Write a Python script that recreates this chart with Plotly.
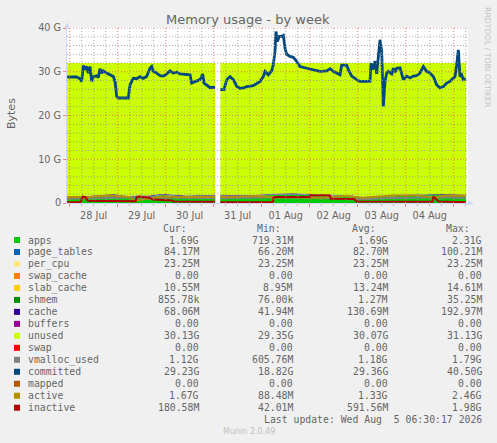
import plotly.graph_objects as go
import pandas as pd

# ---------------- data (values in G) ----------------
STACK_TIMES = [
    "2026-07-27 22:45", "2026-07-28 04:00", "2026-07-28 10:00", "2026-07-28 16:00", "2026-07-28 22:00",
    "2026-07-29 04:00", "2026-07-29 10:00", "2026-07-29 16:00", "2026-07-29 22:00",
    "2026-07-30 04:00", "2026-07-30 10:00", "2026-07-30 16:00", "2026-07-30 22:00",
    "2026-07-31 00:50", "2026-07-31 03:20", "2026-07-31 10:00", "2026-07-31 16:00", "2026-07-31 22:00",
    "2026-08-01 04:00", "2026-08-01 10:00", "2026-08-01 16:00", "2026-08-01 22:00",
    "2026-08-02 04:00", "2026-08-02 10:00", "2026-08-02 16:00", "2026-08-02 22:00",
    "2026-08-03 04:00", "2026-08-03 10:00", "2026-08-03 16:00", "2026-08-03 22:00",
    "2026-08-04 04:00", "2026-08-04 10:00", "2026-08-04 16:00", "2026-08-04 22:00",
    "2026-08-05 06:15",
]
APPS = [1.25, 1.23, 1.42, 1.55, 1.75, 1.44, 1.44, 1.45, 1.81, 1.63, 1.45, 1.50, 1.50,
        1.50, 1.51, 1.55, 1.50, 1.64, 1.81, 1.89, 1.89, 1.81, 1.64, 1.64, 1.59, 1.46,
        1.12, 1.28, 1.60, 1.64, 1.65, 1.78, 1.83, 1.79, 1.69]
PAGE_TABLES = [0.078, 0.079, 0.080, 0.082, 0.085, 0.083, 0.081, 0.082, 0.086, 0.084, 0.082, 0.083, 0.083,
               0.083, 0.080, 0.082, 0.082, 0.084, 0.088, 0.090, 0.089, 0.087, 0.084, 0.084, 0.083, 0.081,
               0.070, 0.076, 0.083, 0.084, 0.084, 0.086, 0.087, 0.086, 0.084]
PER_CPU = [0.023, 0.023, 0.023, 0.023, 0.023, 0.023, 0.023, 0.023, 0.023, 0.023, 0.023, 0.023, 0.023,
           0.023, 0.023, 0.023, 0.023, 0.023, 0.023, 0.023, 0.023, 0.023, 0.023, 0.023, 0.023, 0.023,
           0.023, 0.023, 0.023, 0.023, 0.023, 0.023, 0.023, 0.023, 0.023]
SLAB_CACHE = [0.012, 0.012, 0.013, 0.014, 0.014, 0.013, 0.013, 0.013, 0.014, 0.013, 0.013, 0.013, 0.013,
              0.013, 0.012, 0.013, 0.013, 0.014, 0.014, 0.015, 0.015, 0.014, 0.013, 0.013, 0.013, 0.013,
              0.009, 0.011, 0.013, 0.013, 0.013, 0.014, 0.014, 0.013, 0.011]
SHMEM = [0.001, 0.001, 0.001, 0.001, 0.001, 0.001, 0.001, 0.001, 0.001, 0.001, 0.001, 0.001, 0.001,
         0.001, 0.001, 0.001, 0.001, 0.001, 0.001, 0.001, 0.001, 0.001, 0.001, 0.001, 0.001, 0.001,
         0.035, 0.001, 0.001, 0.001, 0.001, 0.001, 0.001, 0.001, 0.001]
CACHE = [0.15, 0.15, 0.14, 0.16, 0.18, 0.12, 0.12, 0.13, 0.17, 0.15, 0.13, 0.13, 0.13,
         0.13, 0.12, 0.13, 0.13, 0.14, 0.17, 0.19, 0.19, 0.17, 0.14, 0.14, 0.14, 0.12,
         0.06, 0.10, 0.13, 0.14, 0.13, 0.15, 0.15, 0.14, 0.07]
UNUSED = [30.48, 30.50, 30.32, 30.17, 29.95, 30.32, 30.32, 30.30, 29.90, 30.10, 30.30, 30.25, 30.25,
          30.25, 30.25, 30.20, 30.25, 30.10, 29.90, 29.80, 29.80, 29.90, 30.10, 30.10, 30.15, 30.30,
          30.70, 30.50, 30.15, 30.10, 30.10, 29.95, 29.90, 29.95, 30.13]

COMMITTED_TIMES = [
    "2026-07-27 22:45", "2026-07-28 03:30", "2026-07-28 05:10", "2026-07-28 06:00", "2026-07-28 06:50",
    "2026-07-28 07:40", "2026-07-28 08:30", "2026-07-28 09:20", "2026-07-28 10:10", "2026-07-28 11:00",
    "2026-07-28 11:50", "2026-07-28 13:30", "2026-07-28 14:20", "2026-07-28 15:10", "2026-07-28 16:00",
    "2026-07-28 16:50", "2026-07-28 18:30", "2026-07-28 20:10", "2026-07-28 21:50", "2026-07-28 22:40",
    "2026-07-28 23:30", "2026-07-29 00:20", "2026-07-29 05:20", "2026-07-29 06:10", "2026-07-29 07:00",
    "2026-07-29 07:50", "2026-07-29 09:30", "2026-07-29 11:10", "2026-07-29 12:50", "2026-07-29 14:30",
    "2026-07-29 16:10", "2026-07-29 17:00", "2026-07-29 17:50", "2026-07-29 19:30", "2026-07-29 21:10",
    "2026-07-29 22:50", "2026-07-30 00:30", "2026-07-30 02:10", "2026-07-30 03:50", "2026-07-30 05:30",
    "2026-07-30 07:10", "2026-07-30 10:30", "2026-07-30 12:10", "2026-07-30 13:00", "2026-07-30 15:30",
    "2026-07-30 17:10", "2026-07-30 18:00", "2026-07-30 18:30", "2026-07-30 19:10", "2026-07-30 20:30",
    "2026-07-30 22:10", "2026-07-31 00:40",
    "2026-07-31 03:20", "2026-07-31 05:10", "2026-07-31 06:30", "2026-07-31 08:10", "2026-07-31 09:50",
    "2026-07-31 11:30", "2026-07-31 13:10", "2026-07-31 14:50", "2026-07-31 16:30", "2026-07-31 19:50",
    "2026-07-31 23:10", "2026-08-01 00:50", "2026-08-01 01:40", "2026-08-01 03:20", "2026-08-01 05:00",
    "2026-08-01 05:50", "2026-08-01 06:40", "2026-08-01 07:10", "2026-08-01 07:50", "2026-08-01 08:50",
    "2026-08-01 10:00", "2026-08-01 10:50", "2026-08-01 11:40", "2026-08-01 12:30", "2026-08-01 14:10",
    "2026-08-01 15:50", "2026-08-01 17:30", "2026-08-01 19:10", "2026-08-01 22:30", "2026-08-02 01:50",
    "2026-08-02 05:10", "2026-08-02 08:30", "2026-08-02 10:10", "2026-08-02 11:50", "2026-08-02 15:10",
    "2026-08-02 16:00", "2026-08-02 18:30", "2026-08-02 19:20", "2026-08-02 21:00", "2026-08-02 23:30",
    "2026-08-03 01:10", "2026-08-03 06:10", "2026-08-03 06:40", "2026-08-03 07:30", "2026-08-03 08:40",
    "2026-08-03 09:30", "2026-08-03 10:20", "2026-08-03 11:10", "2026-08-03 12:00", "2026-08-03 12:50",
    "2026-08-03 13:40", "2026-08-03 14:30", "2026-08-03 15:20", "2026-08-03 17:00", "2026-08-03 17:50",
    "2026-08-03 18:40", "2026-08-03 19:30", "2026-08-03 21:10", "2026-08-03 22:50", "2026-08-04 00:30",
    "2026-08-04 02:10", "2026-08-04 03:50", "2026-08-04 05:30", "2026-08-04 07:10", "2026-08-04 08:50",
    "2026-08-04 10:30", "2026-08-04 12:10", "2026-08-04 13:50", "2026-08-04 15:30", "2026-08-04 17:10",
    "2026-08-04 18:50", "2026-08-04 20:30", "2026-08-04 22:10", "2026-08-04 23:50", "2026-08-05 00:40",
    "2026-08-05 01:30", "2026-08-05 02:20", "2026-08-05 03:10", "2026-08-05 04:00", "2026-08-05 04:50",
    "2026-08-05 06:10",
]
COMMITTED = [
    28.8, 28.8, 28.4, 27.8, 31.4, 30.5, 31.2, 29.7, 31.2, 27.8,
    28.9, 29.1, 28.7, 30.7, 29.7, 30.2, 29.7, 29.3, 28.9, 27.8,
    24.4, 24.0, 24.0, 27.0, 27.8, 28.5, 28.4, 28.9, 28.5, 28.9,
    30.8, 31.2, 30.1, 29.7, 29.1, 29.0, 29.5, 30.2, 29.7, 29.9,
    29.5, 29.3, 29.3, 27.4, 27.9, 28.2, 28.9, 29.5, 27.4, 26.9,
    26.4, 26.4,
    25.9, 25.9, 28.2, 28.9, 28.2, 26.7, 26.2, 26.3, 26.6, 26.8,
    27.8, 28.9, 30.1, 29.3, 30.2, 31.6, 34.7, 39.2, 36.9, 38.1,
    38.1, 38.3, 35.4, 34.0, 33.5, 33.3, 32.4, 31.2, 30.8, 30.5,
    30.1, 30.2, 30.7, 30.1, 29.3, 31.5, 31.5, 30.5, 29.0, 28.2,
    27.8, 27.8, 32.0, 30.5, 32.4, 29.5, 32.8, 37.3, 34.7, 22.1,
    27.8, 29.7, 30.1, 29.5, 30.8, 29.9, 30.8, 30.9, 28.2, 29.0,
    28.6, 29.0, 29.1, 29.7, 31.2, 30.1, 29.7, 28.9, 27.0, 26.3,
    26.6, 27.4, 27.8, 28.4, 28.9, 31.6, 35.0, 28.9, 29.3, 28.2,
    28.4,
]

VMALLOC_TIMES = ["2026-07-27 22:45", "2026-07-28 12:00", "2026-07-29 00:00", "2026-07-29 12:00",
                 "2026-07-30 00:00", "2026-07-31 00:40", "2026-07-31 03:20", "2026-08-01 06:00",
                 "2026-08-02 00:00", "2026-08-02 23:00", "2026-08-03 12:00", "2026-08-04 00:00",
                 "2026-08-04 18:00", "2026-08-05 06:10"]
VMALLOC_USED = [1.00, 1.10, 1.20, 1.30, 1.20, 1.15, 1.10, 1.30, 1.25, 0.80, 1.10, 1.20, 1.30, 1.12]

ACTIVE_TIMES = ["2026-07-27 22:45", "2026-07-28 06:00", "2026-07-28 07:00", "2026-07-28 12:00",
                "2026-07-28 20:00", "2026-07-29 02:00", "2026-07-29 06:00", "2026-07-29 08:30",
                "2026-07-29 10:00", "2026-07-29 16:00", "2026-07-29 22:00", "2026-07-30 06:00",
                "2026-07-30 22:00", "2026-07-31 00:40", "2026-07-31 03:20", "2026-07-31 12:00",
                "2026-07-31 22:00", "2026-08-01 06:00", "2026-08-01 12:00", "2026-08-02 06:00",
                "2026-08-02 18:00", "2026-08-03 02:00", "2026-08-03 10:00", "2026-08-03 18:00",
                "2026-08-04 06:00", "2026-08-04 14:00", "2026-08-04 20:00", "2026-08-05 06:10"]
ACTIVE = [1.35, 1.40, 1.10, 1.50, 1.70, 1.50, 1.40, 0.30, 0.60, 1.00, 1.50, 1.40,
          1.40, 1.40, 1.30, 1.50, 1.60, 1.30, 1.40, 1.20, 1.60, 1.20, 1.50, 1.70,
          1.80, 1.20, 1.70, 1.67]

INACTIVE_TIMES = ["2026-07-27 22:45", "2026-07-28 05:30", "2026-07-28 06:30", "2026-07-28 08:00",
                  "2026-07-28 09:00", "2026-07-29 09:00", "2026-07-29 09:30", "2026-07-29 11:00",
                  "2026-07-29 14:00", "2026-07-29 16:00", "2026-07-29 17:30", "2026-07-29 21:00",
                  "2026-07-30 03:00", "2026-07-30 04:00", "2026-07-31 00:40", "2026-07-31 03:20",
                  "2026-08-01 05:40", "2026-08-01 06:00", "2026-08-02 00:00", "2026-08-02 00:20",
                  "2026-08-02 10:00", "2026-08-02 10:30", "2026-08-02 22:00", "2026-08-02 23:30",
                  "2026-08-04 13:30", "2026-08-04 13:50", "2026-08-04 15:00", "2026-08-04 16:30",
                  "2026-08-05 06:10"]
INACTIVE = [0.20, 0.20, 1.50, 1.30, 0.50, 0.40, 1.40, 1.50, 1.30, 1.20, 0.80, 0.70,
            0.60, 0.35, 0.30, 0.20, 0.25, 1.35, 1.35, 1.75, 1.75, 0.95, 0.90, 0.35,
            0.30, 1.50, 0.90, 0.35, 0.18]

GAP_START = "2026-07-31 00:50"
GAP_END = "2026-07-31 03:20"

X_RANGE = ["2026-07-27 22:40", "2026-08-05 07:10"]
Y_TICKS = [0, 10, 20, 30, 40]
Y_TICK_TEXT = ["0", "10 G", "20 G", "30 G", "40 G"]

LEGEND_NAMES = ["apps", "page_tables", "per_cpu", "swap_cache", "slab_cache", "shmem", "cache",
                "buffers", "unused", "swap", "vmalloc_used", "committed", "mapped", "active", "inactive"]
LEGEND_CUR = ["1.69G", "84.17M", "23.25M", "0.00", "10.55M", "855.78k", "68.06M", "0.00",
              "30.13G", "0.00", "1.12G", "29.23G", "0.00", "1.67G", "180.58M"]
LEGEND_MIN = ["719.31M", "66.20M", "23.25M", "0.00", "8.95M", "76.00k", "41.94M", "0.00",
              "29.35G", "0.00", "605.76M", "18.82G", "0.00", "88.48M", "42.01M"]
LEGEND_AVG = ["1.69G", "82.70M", "23.25M", "0.00", "13.24M", "1.27M", "130.69M", "0.00",
              "30.07G", "0.00", "1.18G", "29.36G", "0.00", "1.33G", "591.56M"]
LEGEND_MAX = ["2.31G", "100.21M", "23.25M", "0.00", "14.61M", "35.25M", "192.97M", "0.00",
              "31.13G", "0.00", "1.79G", "40.50G", "0.00", "2.46G", "1.98G"]
LAST_UPDATE = "Last update: Wed Aug  5 06:30:17 2026"
TITLE = "Memory usage - by week"

# ---------------- styles ----------------
COLORS = {
    "apps": "#00cc00", "page_tables": "#0066b3", "per_cpu": "#ffe680", "swap_cache": "#ff8000",
    "slab_cache": "#ffcc00", "shmem": "#008f00", "cache": "#330099", "buffers": "#990099",
    "unused": "#ccff00", "swap": "#ff0000", "vmalloc_used": "#808080", "committed": "#00487d",
    "mapped": "#b35a00", "active": "#b38f00", "inactive": "#b30000",
}
W, H = 497, 443
PL, PR, PT, PB = 67, 468, 28, 203
FONT = "DejaVu Sans"
MONO = "DejaVu Sans Mono"
TXT = "#666666"


def xp(px):
    return (px - PL) / (PR - PL)


def yp(py):
    return (PB - py) / (PB - PT)


gs, ge = pd.Timestamp(GAP_START), pd.Timestamp(GAP_END)


def segments(times, *series):
    t = pd.to_datetime(pd.Series(times))
    out = []
    for mask in (t <= gs, t >= ge):
        idx = [i for i, m in enumerate(mask) if m]
        out.append(([times[i] for i in idx],) + tuple([s[i] for i in idx] for s in series))
    return out


fig = go.Figure()

stack = [("apps", APPS), ("page_tables", PAGE_TABLES), ("per_cpu", PER_CPU),
         ("slab_cache", SLAB_CACHE), ("shmem", SHMEM), ("cache", CACHE), ("unused", UNUSED)]
for k, seg in enumerate(segments(STACK_TIMES, *[v for _, v in stack])):
    x = seg[0]
    for (name, _), y in zip(stack, seg[1:]):
        fig.add_trace(go.Scatter(x=x, y=y, stackgroup=f"s{k}", mode="lines",
                                 line=dict(width=0, color=COLORS[name]),
                                 fillcolor=COLORS[name], showlegend=False, hoverinfo="skip"))

lines = [("vmalloc_used", VMALLOC_TIMES, VMALLOC_USED, 2),
         ("committed", COMMITTED_TIMES, COMMITTED, 2.8),
         ("active", ACTIVE_TIMES, ACTIVE, 2),
         ("inactive", INACTIVE_TIMES, INACTIVE, 2)]
for name, t, v, w in lines:
    for seg in segments(t, v):
        fig.add_trace(go.Scatter(x=seg[0], y=seg[1], mode="lines",
                                 line=dict(width=w, color=COLORS[name]),
                                 showlegend=False, hoverinfo="skip"))

shapes = []
# grid (drawn above areas like rrdtool)
GRID = "rgba(150,150,150,0.85)"
MGRID = "rgba(235,100,100,0.85)"
for v in range(2, 41, 2):
    shapes.append(dict(type="line", xref="paper", yref="y", x0=0, x1=1, y0=v, y1=v,
                       line=dict(color=MGRID if v % 10 == 0 else GRID, width=1, dash="1px,2px"),
                       layer="above"))
t = pd.Timestamp("2026-07-28 00:00")
end = pd.Timestamp(X_RANGE[1])
while t <= end:
    shapes.append(dict(type="line", xref="x", yref="paper", x0=t, x1=t, y0=0, y1=1,
                       line=dict(color=MGRID if t.hour == 0 else GRID, width=1, dash="1px,2px"),
                       layer="above"))
    t += pd.Timedelta(hours=6)

AXC = "#cfd6f8"
# arrows
shapes.append(dict(type="path", xref="paper", yref="paper",
                   path=f"M {xp(64.5)} {yp(28)} L {xp(69.5)} {yp(28)} L {xp(67)} {yp(22)} Z",
                   fillcolor=AXC, line=dict(width=0), layer="above"))
shapes.append(dict(type="path", xref="paper", yref="paper",
                   path=f"M {xp(468)} {yp(200.5)} L {xp(468)} {yp(205.5)} L {xp(474)} {yp(203)} Z",
                   fillcolor=AXC, line=dict(width=0), layer="above"))

annotations = []
annotations.append(dict(text=TITLE, x=xp(248), y=yp(19), xref="paper", yref="paper",
                        showarrow=False, font=dict(family=FONT, size=13, color=TXT),
                        xanchor="center", yanchor="middle"))
annotations.append(dict(text="Bytes", x=xp(11), y=yp(114), xref="paper", yref="paper",
                        showarrow=False, textangle=-90, font=dict(family=FONT, size=11, color=TXT),
                        xanchor="center", yanchor="middle"))
annotations.append(dict(text="RRDTOOL / TOBI OETIKER", x=xp(487.5), y=yp(5), xref="paper",
                        yref="paper", showarrow=False, textangle=90,
                        font=dict(family=FONT, size=7.8, color="#c4c4c4"),
                        xanchor="center", yanchor="top"))

# legend table
HEAD_Y = 228
ROW0, ROWH = 240, 11.98
for txt, xr in [("Cur:", 187.5), ("Min:", 282), ("Avg:", 376.5), ("Max:", 471)]:
    annotations.append(dict(text=txt, x=xp(xr), y=yp(HEAD_Y), xref="paper", yref="paper",
                            showarrow=False, xanchor="right", yanchor="middle", borderpad=0,
                            font=dict(family=MONO, size=9.8, color=TXT)))
for i, name in enumerate(LEGEND_NAMES):
    ry = ROW0 + ROWH * i
    shapes.append(dict(type="rect", xref="paper", yref="paper",
                       x0=xp(14), x1=xp(20), y0=yp(ry - 3), y1=yp(ry + 3),
                       fillcolor=COLORS[name], line=dict(width=0)))
    annotations.append(dict(text=name, x=xp(26.5), y=yp(ry), xref="paper", yref="paper",
                            showarrow=False, xanchor="left", yanchor="middle", borderpad=0,
                            font=dict(family=MONO, size=9.8, color=TXT)))
    for vals, xr in [(LEGEND_CUR, 199.5), (LEGEND_MIN, 294), (LEGEND_AVG, 388.5), (LEGEND_MAX, 483)]:
        annotations.append(dict(text=vals[i], x=xp(xr), y=yp(ry), xref="paper", yref="paper",
                                showarrow=False, xanchor="right", yanchor="middle", borderpad=0,
                                font=dict(family=MONO, size=9.8, color=TXT)))
annotations.append(dict(text=LAST_UPDATE.replace("  ", "&nbsp; "), x=xp(483), y=yp(ROW0 + ROWH * 15),
                        xref="paper", yref="paper", showarrow=False, xanchor="right",
                        yanchor="middle", borderpad=0, font=dict(family=MONO, size=9.8, color=TXT)))
annotations.append(dict(text="Munin 2.0.49", x=xp(249), y=yp(431.5), xref="paper", yref="paper",
                        showarrow=False, xanchor="center", yanchor="middle", borderpad=0,
                        font=dict(family=FONT, size=8, color="#c0c0c0")))

fig.update_layout(
    width=W, height=H, autosize=False,
    margin=dict(l=PL, r=W - PR, t=PT, b=H - PB, pad=0),
    paper_bgcolor="#f0f0f0", plot_bgcolor="#ffffff",
    showlegend=False, shapes=shapes, annotations=annotations,
    font=dict(family=FONT, color=TXT),
    xaxis=dict(type="date", range=X_RANGE, showgrid=False, zeroline=False,
               tick0="2026-07-28", dtick=86400000, ticklabelmode="period", tickformat="%d %b",
               ticks="outside", ticklen=3, tickcolor="rgba(230,110,110,0.8)",
               minor=dict(dtick=6 * 3600000, ticks="outside", ticklen=2,
                          tickcolor="rgba(170,170,170,0.8)", showgrid=False),
               showline=True, linecolor=AXC, linewidth=1,
               tickfont=dict(family=FONT, size=9.7, color=TXT)),
    yaxis=dict(range=[0, 40], tickvals=Y_TICKS, ticktext=Y_TICK_TEXT, showgrid=False,
               zeroline=False, ticks="outside", ticklen=3, tickcolor="rgba(230,110,110,0.8)",
               showline=True, linecolor=AXC, linewidth=1,
               tickfont=dict(family=FONT, size=9.7, color=TXT)),
)

fig.write_html("out.html", config={"displayModeBar": False, "staticPlot": True},
               post_script="document.body.style.margin='0';document.body.style.padding='0';"
                           "document.body.style.overflow='hidden';")
